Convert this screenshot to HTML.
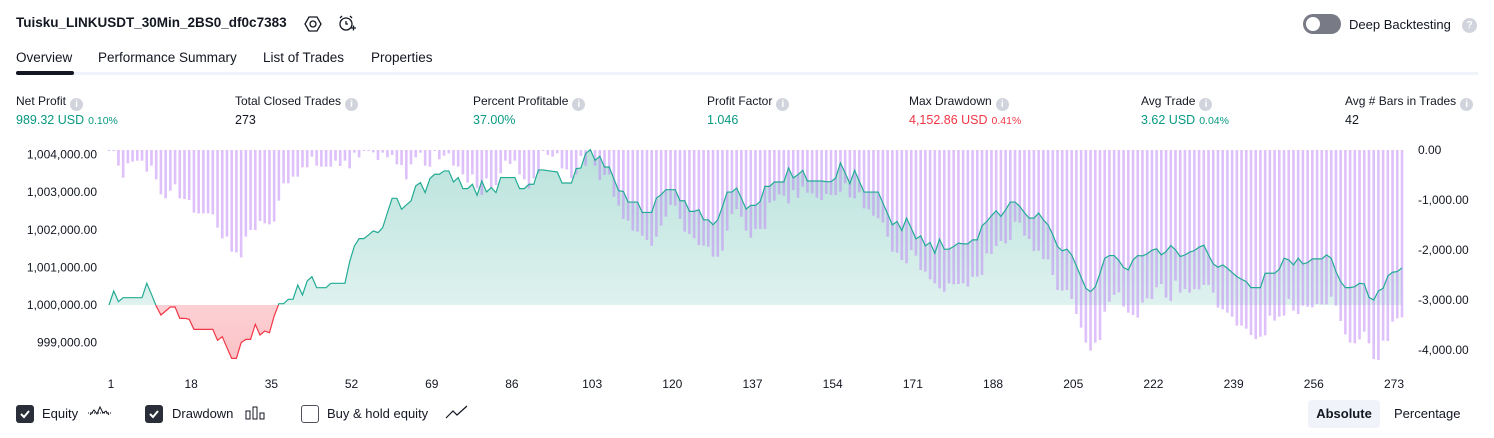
<!DOCTYPE html>
<html><head><meta charset="utf-8"><style>
*{box-sizing:border-box;margin:0;padding:0}
body{width:1494px;height:438px;background:#fff;font-family:"Liberation Sans",sans-serif;color:#131722;position:relative;overflow:hidden}
.a{position:absolute;white-space:nowrap}
.lbl{font-size:12px;color:#131722}
.val{font-size:12.5px}
.g{color:#089981}.r{color:#f23645}
.pct{font-size:10.5px;margin-left:4px}
.info{display:inline-block;width:13px;height:13px;border-radius:50%;background:#d1d4dc;color:#fff;font-size:10px;text-align:center;line-height:13px;font-weight:bold;margin-left:4px;vertical-align:-2px}
.cb{position:absolute;width:18px;height:18px;border-radius:3px}
</style></head><body>
<div class="a" style="left:16px;top:15px;font-size:13.5px;font-weight:bold">Tuisku_LINKUSDT_30Min_2BS0_df0c7383</div>
<svg class="a" style="left:304px;top:15px" width="18" height="18"><polygon points="5,2 13,2 17,9 13,16 5,16 1,9" fill="none" stroke="#131722" stroke-width="1.3"/><circle cx="9" cy="9" r="3" fill="none" stroke="#131722" stroke-width="1.3"/></svg>
<svg class="a" style="left:337px;top:14px" width="20" height="20"><circle cx="9" cy="10" r="6" fill="none" stroke="#131722" stroke-width="1.3"/><path d="M9 7v3h2M3 4l2-2M15 4l-2-2M14 14h5M16.5 11.5v5" stroke="#131722" stroke-width="1.3" fill="none"/></svg>
<div class="a" style="left:1303px;top:14px;width:38px;height:20px;border-radius:10px;background:#787b86"><div style="position:absolute;left:3px;top:3px;width:14px;height:14px;border-radius:50%;background:#fff"></div></div>
<div class="a" style="left:1349px;top:17px;font-size:13px">Deep Backtesting</div>
<div class="a info" style="left:1458px;top:18px;width:15px;height:15px;line-height:15px">?</div>

<div class="a" style="left:16px;top:50px;font-size:13.5px">Overview</div>
<div class="a" style="left:98px;top:50px;font-size:13.5px">Performance Summary</div>
<div class="a" style="left:263px;top:50px;font-size:13.5px">List of Trades</div>
<div class="a" style="left:371px;top:50px;font-size:13.5px">Properties</div>
<div class="a" style="left:16px;top:72px;width:1462px;height:3px;background:#f0f3fa"></div>
<div class="a" style="left:16px;top:71px;width:58px;height:4px;border-radius:2px;background:#131722"></div>

<div class="a lbl" style="left:16px;top:94px">Net Profit<span class="info">i</span></div>
<div class="a val g" style="left:16px;top:113px">989.32 USD<span class="pct">0.10%</span></div>
<div class="a lbl" style="left:235px;top:94px">Total Closed Trades<span class="info">i</span></div>
<div class="a val" style="left:235px;top:113px">273</div>
<div class="a lbl" style="left:473px;top:94px">Percent Profitable<span class="info">i</span></div>
<div class="a val g" style="left:473px;top:113px">37.00%</div>
<div class="a lbl" style="left:707px;top:94px">Profit Factor<span class="info">i</span></div>
<div class="a val g" style="left:707px;top:113px">1.046</div>
<div class="a lbl" style="left:909px;top:94px">Max Drawdown<span class="info">i</span></div>
<div class="a val r" style="left:909px;top:113px">4,152.86 USD<span class="pct">0.41%</span></div>
<div class="a lbl" style="left:1141px;top:94px">Avg Trade<span class="info">i</span></div>
<div class="a val g" style="left:1141px;top:113px">3.62 USD<span class="pct">0.04%</span></div>
<div class="a lbl" style="left:1345px;top:94px">Avg # Bars in Trades<span class="info">i</span></div>
<div class="a val" style="left:1345px;top:113px">42</div>

<svg class="a" id="chart" style="left:0;top:0" width="1494" height="395"></svg>

<div class="cb" style="left:16px;top:405px;background:#2a2e39"><svg width="18" height="18"><path d="M5 9l3 3 5-6" stroke="#fff" stroke-width="2" fill="none"/></svg></div>
<div class="a" style="left:42px;top:406px;font-size:13px">Equity</div>
<svg class="a" style="left:87px;top:403px" width="26" height="18"><path d="M1 10h24" stroke="#131722" stroke-dasharray="1 1" stroke-width="1"/><path d="M3 12l4-5 3 4 3-7 3 6 3-2 3 4" stroke="#131722" fill="none"/></svg>
<div class="cb" style="left:145px;top:405px;background:#2a2e39"><svg width="18" height="18"><path d="M5 9l3 3 5-6" stroke="#fff" stroke-width="2" fill="none"/></svg></div>
<div class="a" style="left:172px;top:406px;font-size:13px">Drawdown</div>
<svg class="a" style="left:245px;top:405px" width="22" height="16"><rect x="1" y="6" width="4" height="8" fill="none" stroke="#131722"/><rect x="8" y="2" width="4" height="12" fill="none" stroke="#131722"/><rect x="15" y="8" width="4" height="6" fill="none" stroke="#131722"/></svg>
<div class="cb" style="left:301px;top:405px;border:1.3px solid #50535e"></div>
<div class="a" style="left:327px;top:406px;font-size:13px">Buy &amp; hold equity</div>
<svg class="a" style="left:445px;top:405px" width="24" height="16"><path d="M1 13l7-7 4 4 10-9" stroke="#131722" fill="none" stroke-width="1.2"/></svg>
<div class="a" style="left:1308px;top:400px;width:72px;height:28px;border-radius:4px;background:#f0f3fa;font-size:13px;font-weight:bold;text-align:center;line-height:28px">Absolute</div>
<div class="a" style="left:1394px;top:406px;font-size:13px">Percentage</div>

<script>
const equity=[0,372,89,195,195,195,195,195,577,284,-27,-266,-160,-53,-53,-355,-355,-381,-648,-648,-648,-648,-648,-940,-843,-1135,-1419,-1419,-1002,-914,-914,-514,-798,-692,-736,-293,35,35,151,151,532,266,639,754,461,461,461,577,577,577,577,1153,1570,1765,1765,1863,1969,1925,2058,2457,2838,2838,2546,2661,2767,3167,3255,2989,3362,3477,3477,3566,3566,3273,3389,3096,3096,3211,2918,3300,3007,3122,2989,3389,3389,3389,3389,3096,3096,3211,3211,3592,3592,
3573,3555,3538,3244,3244,3244,3627,3644,4027,4133,3849,3955,3671,3671,3351,3040,3022,2738,2738,2738,2462,2462,2462,2844,2933,3067,3067,3067,2773,2773,2489,2489,2533,2266,2266,2133,2266,2622,3004,3004,3111,2844,2551,2649,2649,2755,3155,3155,3271,3271,3271,3644,3378,3467,3582,3298,3298,3298,3298,3280,3280,3378,3778,3511,3227,3582,3289,3004,3004,3004,3004,2711,2426,2133,2222,1982,2311,2044,1760,1840,1573,1662,1377,1751,1484,1484,1555,1644,1626,1626,1733,1733,2106,2222,
2373,2506,2355,2533,2738,2738,2622,2453,2311,2311,2444,2266,2133,1866,1555,1440,1484,1333,1040,737,444,355,480,844,1244,1315,1315,1182,995,933,1200,1315,1306,1360,1458,1493,1333,1422,1582,1466,1289,1333,1404,1449,1537,1591,1333,1093,1004,1066,977,862,755,684,622,462,462,462,844,844,844,951,1244,1200,1066,1244,1093,1129,1226,1226,1226,1333,1244,889,622,462,462,488,577,560,204,133,373,444,773,871,888,989];
const drawdown=[-13,-13,-313,-553,-267,-233,-213,-213,-433,-313,-587,-887,-967,-813,-687,-967,-980,-1000,-1253,-1267,-1267,-1267,-1287,-1553,-1767,-1733,-2033,-2047,-2147,-1733,-1600,-1600,-1420,-1467,-1487,-1433,-1013,-667,-667,-533,-533,-347,-347,-133,-313,-333,-333,-333,-213,-320,-213,-367,-53,-147,-20,-20,-47,-200,-53,-147,-100,-287,-300,-587,-287,-147,-53,-313,-333,-13,-187,-113,-67,-313,-333,-487,-653,-487,-767,-900,-567,-767,-700,-467,-213,-280,-213,-487,-587,-767,-567,-467,-13,-100,
-133,-67,-367,-387,-567,-487,-120,-313,-33,-313,-600,-500,-487,-933,-1113,-1380,-1413,-1613,-1633,-1713,-1800,-1913,-1733,-1513,-1333,-1100,-1113,-1380,-1633,-1680,-1767,-1900,-1913,-1933,-2133,-2133,-2013,-1613,-1280,-1180,-1333,-1613,-1753,-1580,-1580,-1580,-1053,-1013,-887,-913,-1067,-800,-953,-733,-853,-867,-953,-1000,-880,-900,-900,-833,-667,-947,-967,-847,-1167,-1187,-1313,-1367,-1453,-1733,-2033,-2053,-2200,-2267,-2000,-2113,-2400,-2433,-2587,-2667,-2767,-2833,-2667,-2687,-2680,-2667,-2733,-2533,-2533,-2500,-2067,
-2080,-1920,-1820,-1867,-1800,-1433,-1453,-1713,-1780,-2020,-2013,-2180,-2187,-2500,-2800,-2813,-2800,-2980,-3280,-3553,-3853,-4013,-3853,-3800,-3233,-3033,-2900,-2847,-3133,-3253,-3300,-3353,-3053,-2967,-2980,-2747,-2680,-2953,-3020,-2613,-2853,-2780,-2853,-2780,-2787,-2700,-2700,-2853,-3153,-3187,-3253,-3333,-3513,-3513,-3573,-3700,-3780,-3733,-3707,-3313,-3413,-3333,-3313,-2980,-3213,-3280,-3113,-3133,-3147,-3080,-3087,-3087,-2933,-3113,-3420,-3687,-3853,-3867,-3787,-3633,-3867,-4180,-4200,-3813,-3820,-3433,-3367,-3347];
const xTicks=[1,18,35,52,69,86,103,120,137,154,171,188,205,222,239,256,273];
const leftTicks=[999000,1000000,1001000,1002000,1003000,1004000];
const rightTicks=[0,-1000,-2000,-3000,-4000];
const base=1000000;

const NS='http://www.w3.org/2000/svg';
const svg=document.getElementById('chart');
const X0=109,STEP=(1402-109)/(equity.length-1);
const xS=i=>X0+i*STEP;
const yL=v=>305-(v-base)/1000*37.6;
const yE=p=>yL(base+p);
const yR=d=>150-d/1000*50;
const tickX=k=>111+(k-1)*(1394-111)/272;
function mk(t,a){const e=document.createElementNS(NS,t);for(const k in a)e.setAttribute(k,a[k]);svg.appendChild(e);return e;}
const defs=mk('defs',{});
defs.innerHTML='<linearGradient id="gg" x1="0" y1="0" x2="0" y2="1"><stop offset="0" stop-color="#089981" stop-opacity="0.28"/><stop offset="1" stop-color="#089981" stop-opacity="0.08"/></linearGradient><linearGradient id="rg" x1="0" y1="0" x2="0" y2="1"><stop offset="0" stop-color="#f23645" stop-opacity="0.03"/><stop offset="1" stop-color="#f23645" stop-opacity="0.3"/></linearGradient><clipPath id="above"><rect x="0" y="0" width="1494" height="'+yE(0)+'"/></clipPath><clipPath id="below"><rect x="0" y="'+yE(0)+'" width="1494" height="200"/></clipPath>';
const by=yE(0);
let pts=equity.map((p,i)=>xS(i).toFixed(2)+','+yE(p).toFixed(2)).join(' ');
let area='M'+xS(0)+','+by+' L'+pts+' L'+xS(equity.length-1)+','+by+'Z';
const ga=mk('path',{d:area,fill:'url(#gg)','clip-path':'url(#above)'});


const ra=mk('path',{d:area,fill:'url(#rg)','clip-path':'url(#below)'});


drawdown.forEach((d,i)=>{
  const h=yR(d)-150;
  const r=mk('rect',{x:(xS(i)-1.3).toFixed(2),y:150,width:2.6,height:Math.max(h,1).toFixed(2),fill:'rgba(190,130,245,0.5)'});
  
  
});
const gl=mk('polyline',{points:pts,fill:'none',stroke:'#22ab94','stroke-width':1.2,'clip-path':'url(#above)'});


const rl=mk('polyline',{points:pts,fill:'none',stroke:'#f23645','stroke-width':1.2,'clip-path':'url(#below)'});


const fmt=v=>v.toLocaleString('en-US',{minimumFractionDigits:2,maximumFractionDigits:2});
leftTicks.forEach(v=>{
  const t=mk('text',{x:97,y:yL(v)+4,'text-anchor':'end','font-size':12,fill:'#131722','font-family':'Liberation Sans'});
  t.textContent=fmt(v);
  
  
});
rightTicks.forEach(v=>{
  const t=mk('text',{x:1418,y:yR(v)+4,'font-size':12,fill:'#131722','font-family':'Liberation Sans'});
  t.textContent=fmt(v);
  
  
});
xTicks.forEach(k=>{
  const t=mk('text',{x:tickX(k),y:388,'text-anchor':'middle','font-size':12,fill:'#131722','font-family':'Liberation Sans'});
  t.textContent=k;
  
  
});
</script>
</body></html>
